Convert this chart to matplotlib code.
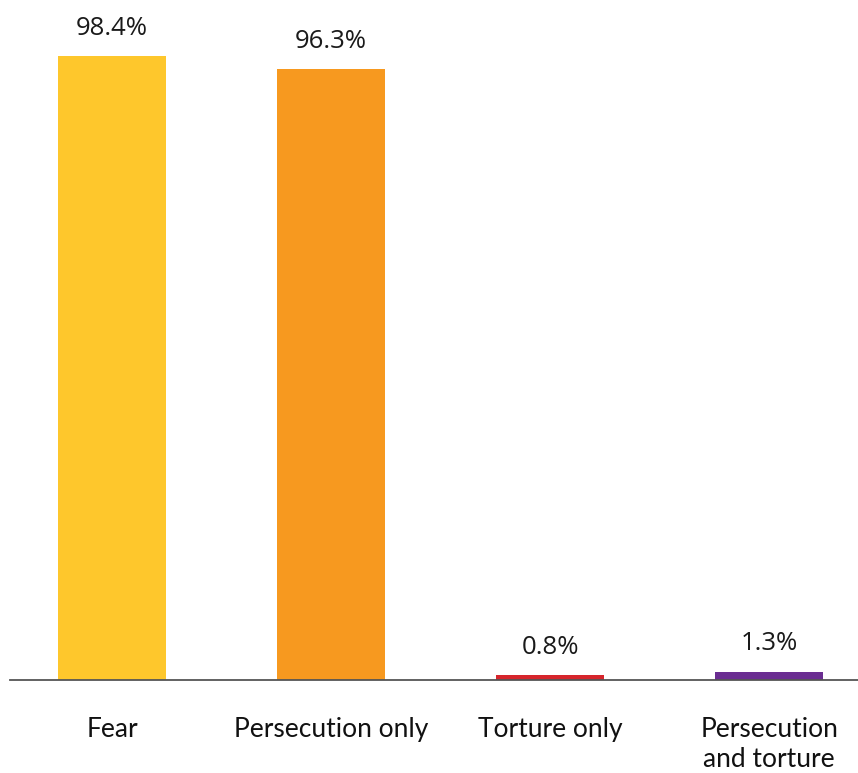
import matplotlib
matplotlib.use('Agg')
import matplotlib.pyplot as plt

categories = ['Fear', 'Persecution only', 'Torture only', 'Persecution\nand torture']
values = [98.4, 96.3, 0.8, 1.3]
labels = ['98.4%', '96.3%', '0.8%', '1.3%']
colors = ['#FEC72C', '#F7991F', '#D6252C', '#6A2D91']

fig = plt.figure(figsize=(8.58, 7.73), dpi=100)
ax = fig.add_axes([10/858, 93/773, 848/858, 634/773])

x = list(range(len(categories)))
ax.bar(x, values, width=0.493, color=colors)
for xi, v, lab in zip(x, values, labels):
	ax.annotate(lab, (xi, v), xytext=(0, 20), textcoords='offset points',
		ha='center', va='center', fontsize=18.5, family='Open Sans', color='#1a1a1a')

ax.set_xlim(-0.466, 3.406)
ax.set_ylim(0, 100)
ax.set_yticks([])
ax.set_xticks(x)
ax.set_xticklabels(categories, fontsize=19, family='Lato', color='#111111', linespacing=1.28)
ax.tick_params(axis='x', length=0, pad=26.5)
for side in ['top', 'right', 'left']:
	ax.spines[side].set_visible(False)
ax.spines['bottom'].set_color('#555555')
ax.spines['bottom'].set_linewidth(1.3)

plt.savefig('out.png', dpi=100)
